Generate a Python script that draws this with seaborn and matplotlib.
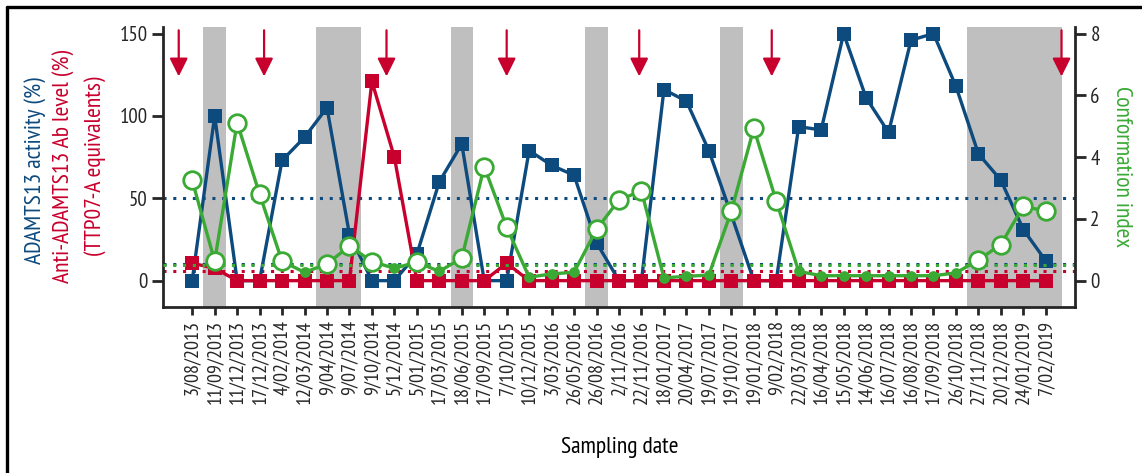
import numpy as np
import pandas as pd
import seaborn as sns
import matplotlib.pyplot as plt
from matplotlib import lines

# ====================
# Data
# ====================

dates = ['3/08/2013', '11/09/2013', '11/12/2013', '17/12/2013', '4/02/2014',
         '12/03/2014', '9/04/2014', '9/07/2014', '9/10/2014', '5/12/2014',
         '5/01/2015', '17/03/2015', '18/06/2015', '17/09/2015', '7/10/2015',
         '10/12/2015', '3/03/2016', '26/05/2016', '26/08/2016', '2/11/2016',
         '22/11/2016', '18/01/2017', '20/04/2017', '19/07/2017', '19/10/2017',
         '19/01/2018', '9/02/2018', '22/03/2018', '16/04/2018', '15/05/2018',
         '14/06/2018', '16/07/2018', '16/08/2018', '17/09/2018', '26/10/2018',
         '27/11/2018', '20/12/2018', '24/01/2019', '7/02/2019']

activity = [0, 100, 0, 0, 73, 87, 105, 28, 0, 0,
            16, 60, 83, 0, 0, 79, 70, 64, 23, 0,
            0, 116, 109, 79, 40, 0, 0, 93.5, 91.5, 150,
            111, 90, 146, 150, 118, 77, 61, 31, 12]

antibody = [10.6, 7.5, 0, 0, 0, 0, 0, 0, 121, 75,
            0, 0, 0, 0, 10.6, 0, 0, 0, 0, 0,
            0, 0, 0, 0, 0, 0, 0, 0, 0, 0,
            0, 0, 0, 0, 0, 0, 0, 0, 0]

conformation = [3.25, 0.63, 5.12, 2.80, 0.63, 0.27, 0.54, 1.12, 0.62, 0.40,
                0.60, 0.30, 0.73, 3.69, 1.73, 0.11, 0.22, 0.27, 1.66, 2.62,
                2.90, 0.09, 0.14, 0.18, 2.25, 4.93, 2.58, 0.30, 0.16, 0.16,
                0.16, 0.16, 0.16, 0.16, 0.25, 0.67, 1.17, 2.41, 2.25]

# shaded periods (in sample-index units) and treatment arrows
shaded = [(0.5, 1.5), (5.5, 7.5), (11.5, 12.5), (17.5, 18.5), (23.5, 24.5), (34.5, 38.7)]
arrow_pos = [-0.6, 3.2, 8.65, 14.0, 19.9, 25.8, 38.7]

activity_cutoffs = [10, 50]
antibody_cutoff = 6
ci_cutoff = 0.5

df = pd.DataFrame({'idx': np.arange(len(dates)), 'activity': activity,
                   'antibody': antibody, 'ci': conformation})

# ====================
# Plotting
# ====================

sns.set_style('ticks')
plt.rcParams['font.family'] = ['PT Sans Narrow', 'Open Sans Condensed', 'DejaVu Sans']

blue = '#0d4a7e'
red = '#c8002d'
green = '#3aaa35'
grey = '#bfbfbf'

fig = plt.figure(figsize=(11.42, 4.73), dpi=100)
ax1 = fig.add_axes([163/1142, 1-307/473, (1075-163)/1142, (307-27)/473])
ax2 = ax1.twinx()

for a, b in shaded:
    ax1.axvspan(a, b, color=grey, lw=0, zorder=0)

dot = (0, (1, 2.2))
for c in activity_cutoffs:
    ax1.axhline(c, color=blue, lw=2.2, ls=dot, zorder=1)
ax1.axhline(antibody_cutoff, color=red, lw=2.2, ls=dot, zorder=1)
ax2.axhline(ci_cutoff, color=green, lw=2.2, ls=dot, zorder=1)

marks = [i for i in df.idx if i != 24]
sns.lineplot(data=df, x='idx', y='activity', ax=ax1, color=blue, lw=2.4,
             marker='s', markersize=10, markeredgewidth=0, markevery=marks, zorder=3)
sns.lineplot(data=df, x='idx', y='antibody', ax=ax1, color=red, lw=2.4,
             marker='s', markersize=10, markeredgewidth=0, zorder=4)

sns.lineplot(data=df, x='idx', y='ci', ax=ax2, color=green, lw=2.4, zorder=3)
low = df[df.ci <= ci_cutoff]
high = df[df.ci > ci_cutoff]
sns.scatterplot(data=low, x='idx', y='ci', ax=ax2, color=green, s=60,
                linewidth=0, zorder=4)
sns.scatterplot(data=high, x='idx', y='ci', ax=ax2, color='white', edgecolor=green,
                s=160, linewidth=2, zorder=5)

for x in arrow_pos:
    ax1.annotate('', xy=(x, 124), xytext=(x, 152), annotation_clip=False,
                 arrowprops=dict(arrowstyle='-|>,head_length=1.1,head_width=0.55',
                                 color=red, lw=1.6, shrinkA=0, shrinkB=0))

ax1.set_xlim(-1.3, 39.3)
ax1.set_ylim(-16, 154)
ax2.set_ylim(-16*8/150, 154*8/150)
ax1.set_yticks([0, 50, 100, 150])
ax2.set_yticks([0, 2, 4, 6, 8])
ax1.set_xticks(df.idx)
ax1.set_xticklabels(dates, rotation=90, fontsize=14.5)
ax1.tick_params(axis='y', labelsize=15, length=8, width=2, pad=3)
ax2.tick_params(axis='y', labelsize=15, length=8, width=2, pad=3)
ax1.tick_params(axis='x', length=6, width=2, pad=3)
ax1.set_xlabel('')
ax1.set_ylabel('')
ax2.set_ylabel('')

for ax in (ax1, ax2):
    ax.spines['top'].set_visible(False)
    for s in ('left', 'right', 'bottom'):
        ax.spines[s].set_linewidth(2)
ax1.spines['right'].set_visible(False)
ax2.spines['left'].set_visible(False)
ax2.spines['bottom'].set_visible(False)

fig.text(35/1142, 1-171/473, 'ADAMTS13 activity (%)', color=blue, rotation=90,
         ha='center', va='center', fontsize=17)
fig.text(63/1142, 1-166/473, 'Anti-ADAMTS13 Ab level (%)', color=red, rotation=90,
         ha='center', va='center', fontsize=17)
fig.text(95/1142, 1-166/473, '(TTP07-A equivalents)', color=red, rotation=90,
         ha='center', va='center', fontsize=17)
fig.text(1122/1142, 1-167/473, 'Conformation index', color=green, rotation=270,
         ha='center', va='center', fontsize=17)
fig.text(620/1142, 1-447/473, 'Sampling date', color='black',
         ha='center', va='center', fontsize=17)

# frame round the figure (left and top edges)
for xs, ys in (([7/1142, 7/1142], [0, 1-7.5/473]), ([7/1142, 1], [1-7.5/473, 1-7.5/473])):
    fig.add_artist(lines.Line2D(xs, ys, color='black', lw=2.4, transform=fig.transFigure))

fig.savefig('out.png', dpi=100)
